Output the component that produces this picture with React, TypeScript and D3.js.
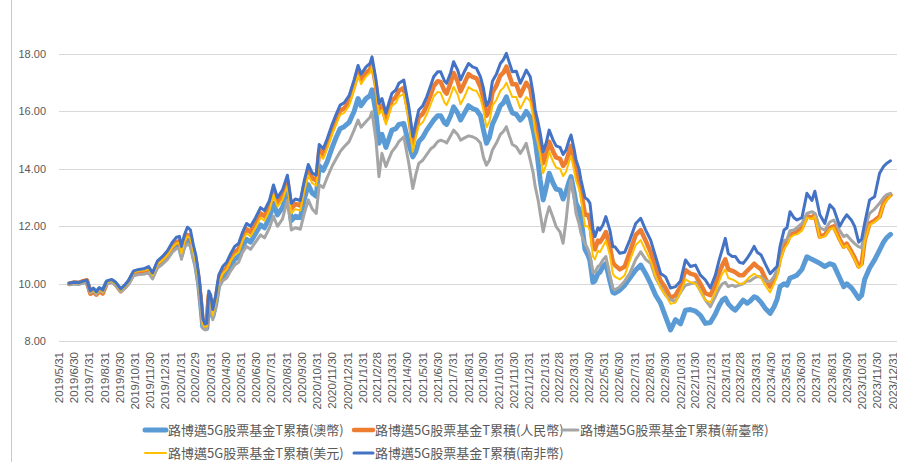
import React, { useEffect, useRef } from "react";
import * as d3 from "d3";

// sample dates
const dates = [
  "2019/6/21","2019/6/30","2019/7/10","2019/7/20","2019/7/26","2019/8/2","2019/8/8","2019/8/14","2019/8/20","2019/8/27",
  "2019/9/4","2019/9/14","2019/9/22","2019/10/2","2019/10/10","2019/10/18","2019/10/28","2019/11/7","2019/11/17","2019/11/27",
  "2019/12/5","2019/12/15","2019/12/25","2020/1/4","2020/1/14","2020/1/22","2020/1/28","2020/2/1","2020/2/7","2020/2/13",
  "2020/2/19","2020/2/25","2020/3/1","2020/3/7","2020/3/11","2020/3/15","2020/3/19","2020/3/23","2020/3/27","2020/3/31",
  "2020/4/4","2020/4/10","2020/4/16","2020/4/24","2020/5/2","2020/5/10","2020/5/18","2020/5/26","2020/6/3","2020/6/11",
  "2020/6/19","2020/6/29","2020/7/9","2020/7/17","2020/7/27","2020/8/4","2020/8/12","2020/8/22","2020/9/1","2020/9/9",
  "2020/9/17","2020/9/27","2020/10/5","2020/10/13","2020/10/21","2020/10/29","2020/11/4","2020/11/12","2020/11/20","2020/11/30",
  "2020/12/8","2020/12/16","2020/12/24","2021/1/3","2021/1/13","2021/1/21","2021/1/27","2021/2/6","2021/2/14","2021/2/18",
  "2021/2/26","2021/3/4","2021/3/10","2021/3/18","2021/3/24","2021/3/30","2021/4/7","2021/4/13","2021/4/23","2021/5/3",
  "2021/5/11","2021/5/17","2021/5/23","2021/5/31","2021/6/8","2021/6/16","2021/6/22","2021/6/30","2021/7/6","2021/7/14",
  "2021/7/18","2021/7/26","2021/8/1","2021/8/9","2021/8/15","2021/8/23","2021/8/31","2021/9/8","2021/9/16","2021/9/24",
  "2021/9/30","2021/10/6","2021/10/12","2021/10/18","2021/10/26","2021/11/3","2021/11/9","2021/11/15","2021/11/21","2021/11/27",
  "2021/12/5","2021/12/13","2021/12/19","2021/12/25","2022/1/2","2022/1/8","2022/1/12","2022/1/18","2022/1/22","2022/1/28",
  "2022/2/3","2022/2/9","2022/2/17","2022/2/23","2022/3/3","2022/3/9","2022/3/15","2022/3/21","2022/3/25","2022/3/31",
  "2022/4/4","2022/4/10","2022/4/14","2022/4/22","2022/4/28","2022/5/2","2022/5/8","2022/5/12","2022/5/18","2022/5/22",
  "2022/5/28","2022/6/3","2022/6/11","2022/6/17","2022/6/21","2022/7/1","2022/7/11","2022/7/21","2022/8/2","2022/8/12",
  "2022/8/22","2022/9/1","2022/9/11","2022/9/21","2022/10/1","2022/10/11","2022/10/21","2022/10/31","2022/11/10","2022/11/20",
  "2022/11/30","2022/12/10","2022/12/20","2022/12/30","2023/1/9","2023/1/17","2023/1/23","2023/1/29","2023/2/4","2023/2/12",
  "2023/2/18","2023/2/26","2023/3/6","2023/3/14","2023/3/20","2023/3/28","2023/4/3","2023/4/11","2023/4/19","2023/4/29",
  "2023/5/7","2023/5/13","2023/5/19","2023/5/27","2023/6/2","2023/6/8","2023/6/16","2023/6/22","2023/7/2","2023/7/12",
  "2023/7/22","2023/7/28","2023/8/7","2023/8/17","2023/8/27","2023/9/4","2023/9/16","2023/9/24","2023/9/30","2023/10/10",
  "2023/10/16","2023/10/24","2023/10/30","2023/11/5","2023/11/15","2023/11/25","2023/12/5","2023/12/13","2023/12/19","2023/12/27",
];

// 路博邁5G股票基金T累積(澳幣)
const audValues = [
  10.00,10.03,10.02,10.07,10.08,9.72,9.80,9.70,9.82,9.75,
  10.05,10.10,10.00,9.78,9.90,10.06,10.38,10.43,10.44,10.50,
  10.28,10.66,10.80,10.97,11.22,11.35,11.38,11.00,11.40,11.55,
  11.50,11.00,10.65,9.95,9.25,8.50,8.45,8.45,9.45,9.30,
  8.85,9.30,9.95,10.20,10.35,10.62,10.85,10.95,11.30,11.55,
  11.45,11.75,12.05,11.95,12.30,12.80,12.40,12.65,13.15,12.20,
  12.35,12.30,12.95,13.45,13.15,13.05,14.10,13.95,14.25,14.75,
  15.10,15.40,15.47,15.62,16.00,16.45,16.20,16.45,16.55,16.75,
  15.95,14.89,15.20,14.75,15.05,15.35,15.40,15.55,15.58,14.85,
  14.42,14.60,14.95,15.10,15.35,15.55,15.70,15.85,15.85,15.60,
  15.55,15.85,16.16,15.95,15.70,15.95,16.20,16.10,16.05,15.85,
  15.35,14.89,15.10,15.55,15.85,16.20,16.30,16.51,16.20,15.95,
  15.90,15.70,15.82,16.00,15.80,15.35,15.00,14.20,13.61,12.92,
  13.35,13.85,13.50,13.30,13.26,12.95,13.20,13.55,13.73,13.20,
  12.80,12.60,12.30,11.20,11.00,10.80,10.05,10.10,10.35,10.40,
  10.60,10.70,10.10,9.70,9.67,9.78,9.95,10.20,10.48,10.65,
  10.35,10.00,9.60,9.32,8.85,8.39,8.75,8.60,9.08,9.10,
  9.05,8.90,8.62,8.65,8.95,9.25,9.43,9.50,9.30,9.15,
  9.08,9.25,9.43,9.32,9.40,9.55,9.50,9.35,9.15,8.97,
  9.20,9.45,9.90,10.00,9.95,10.20,10.25,10.30,10.50,10.94,
  10.85,10.80,10.71,10.60,10.70,10.65,10.20,9.90,10.00,9.85,
  9.70,9.49,9.60,10.15,10.55,10.83,11.17,11.45,11.60,11.72,
];

// 路博邁5G股票基金T累積(人民幣)
const cnyValues = [
  10.00,10.04,10.03,10.10,10.12,9.65,9.72,9.62,9.74,9.66,
  10.02,10.08,9.98,9.74,9.88,10.05,10.38,10.44,10.45,10.52,
  10.30,10.70,10.85,11.03,11.30,11.45,11.48,11.10,11.50,11.70,
  11.65,11.15,10.80,10.10,9.40,8.65,8.50,8.55,9.60,9.45,
  8.95,9.45,10.10,10.40,10.55,10.85,11.10,11.20,11.60,11.90,
  11.80,12.10,12.45,12.35,12.70,13.25,12.82,13.08,13.58,12.62,
  12.78,12.72,13.42,13.95,13.67,13.60,14.66,14.50,14.86,15.35,
  15.70,16.03,16.10,16.35,16.88,17.38,17.10,17.35,17.45,17.67,
  16.88,16.05,16.20,15.70,16.05,16.38,16.50,16.72,16.82,15.90,
  14.88,15.35,15.80,15.92,16.20,16.58,16.88,17.05,17.03,16.70,
  16.62,17.00,17.34,17.05,16.70,17.00,17.30,17.20,17.15,16.85,
  16.45,15.85,16.05,16.65,16.90,17.25,17.35,17.56,17.25,16.95,
  16.95,16.55,16.78,17.00,16.80,16.20,15.65,15.20,14.85,14.20,
  14.50,14.95,14.60,14.40,14.35,14.10,14.25,14.60,14.80,14.30,
  13.92,13.60,13.25,12.40,12.40,12.20,11.30,11.20,11.50,11.45,
  11.60,11.80,11.30,10.75,10.65,10.50,10.60,11.10,11.70,11.87,
  11.50,11.10,10.55,10.10,9.85,9.50,9.60,9.90,10.48,10.35,
  10.30,10.00,9.67,9.60,9.95,10.40,10.65,10.85,10.50,10.45,
  10.40,10.30,10.30,10.45,10.55,10.70,10.60,10.50,10.20,9.90,
  10.15,10.40,10.90,11.30,11.45,11.70,11.76,11.80,11.95,12.35,
  12.30,12.40,11.64,11.70,11.95,12.00,11.55,11.29,11.40,11.10,
  10.90,10.60,10.70,11.50,12.10,12.20,12.34,12.80,12.95,13.09,
];

// 路博邁5G股票基金T累積(新臺幣)
const twdValues = [
  9.98,10.00,9.98,10.03,10.05,9.68,9.75,9.63,9.78,9.70,
  10.00,10.04,9.95,9.72,9.83,9.98,10.28,10.32,10.33,10.38,
  10.17,10.55,10.68,10.85,11.10,11.22,11.25,10.85,11.25,11.38,
  11.32,10.85,10.50,9.80,9.10,8.45,8.40,8.40,9.35,9.20,
  8.75,9.20,9.85,10.10,10.20,10.45,10.65,10.75,11.10,11.30,
  11.20,11.45,11.70,11.60,11.95,12.35,12.00,12.25,12.90,11.87,
  11.95,11.90,12.45,12.92,12.60,12.45,13.45,13.35,13.70,14.10,
  14.35,14.60,14.77,14.95,15.35,15.70,15.45,15.65,15.80,15.99,
  15.00,13.73,14.54,14.08,14.35,14.60,14.77,14.95,15.12,14.19,
  13.32,13.80,14.19,14.30,14.50,14.70,14.77,14.95,15.00,14.95,
  14.90,15.15,15.35,15.20,15.00,15.08,15.15,15.12,15.05,14.90,
  14.40,14.13,14.30,14.66,14.90,15.20,15.30,15.47,15.15,14.85,
  14.77,14.54,14.70,14.89,14.31,13.85,13.38,12.90,12.45,11.81,
  12.30,12.68,12.30,11.99,11.80,11.41,12.20,13.20,13.61,13.00,
  12.45,12.10,11.76,11.40,11.20,11.00,10.40,10.40,10.60,10.65,
  10.83,10.95,10.30,9.85,9.78,9.90,10.10,10.36,10.85,11.11,
  10.85,10.71,10.20,9.90,9.60,9.43,9.40,9.70,9.95,10.00,
  10.05,9.75,9.43,9.20,9.55,9.85,10.00,10.05,9.90,9.95,
  9.90,9.95,10.00,10.10,10.10,10.20,10.25,10.24,10.10,10.07,
  10.25,10.50,11.20,11.50,11.55,11.85,11.87,11.95,12.10,12.45,
  12.51,12.45,11.95,11.87,12.15,12.22,11.85,11.64,11.70,11.50,
  11.40,11.29,11.25,11.90,12.45,12.60,12.80,13.00,13.10,13.15,
];

// 路博邁5G股票基金T累積(美元)
const usdValues = [
  10.00,10.03,10.02,10.08,10.10,9.70,9.78,9.67,9.80,9.72,
  10.05,10.10,10.00,9.77,9.90,10.07,10.40,10.45,10.46,10.52,
  10.30,10.68,10.82,11.00,11.27,11.40,11.43,11.05,11.45,11.65,
  11.60,11.10,10.75,10.05,9.35,8.60,8.50,8.52,9.55,9.40,
  8.90,9.40,10.05,10.35,10.50,10.80,11.00,11.10,11.50,11.75,
  11.65,11.95,12.30,12.20,12.55,13.10,12.68,12.92,13.40,12.45,
  12.60,12.55,13.25,13.78,13.50,13.42,14.50,14.35,14.70,15.20,
  15.55,15.88,15.95,16.20,16.75,17.25,16.95,17.22,17.35,17.56,
  16.75,15.90,16.05,15.55,15.90,16.20,16.30,16.52,16.60,15.70,
  14.60,15.10,15.50,15.62,15.90,16.25,16.52,16.68,16.65,16.30,
  16.22,16.55,16.86,16.60,16.25,16.52,16.85,16.75,16.72,16.45,
  16.05,15.45,15.65,16.20,16.40,16.72,16.82,17.00,16.75,16.50,
  16.50,16.10,16.30,16.50,16.35,15.80,15.30,14.85,14.50,13.85,
  14.15,14.60,14.25,14.05,14.00,13.75,13.90,14.25,14.45,13.95,
  13.60,13.30,12.95,12.00,12.00,11.85,10.95,10.85,11.15,11.10,
  11.30,11.50,11.00,10.35,10.25,10.15,10.30,10.80,11.35,11.52,
  11.15,10.80,10.25,9.85,9.60,9.30,9.35,9.70,10.15,10.05,
  10.00,9.75,9.43,9.35,9.70,10.10,10.35,10.50,10.20,10.15,
  10.10,10.00,10.00,10.15,10.25,10.35,10.28,10.20,9.95,9.70,
  10.00,10.25,10.75,11.20,11.35,11.60,11.70,11.72,11.85,12.30,
  12.25,12.35,11.60,11.65,11.90,11.95,11.50,11.25,11.35,11.05,
  10.85,10.55,10.65,11.45,12.05,12.15,12.30,12.75,12.90,13.05,
];

// 路博邁5G股票基金T累積(南非幣)
const zarValues = [
  10.02,10.05,10.04,10.10,10.12,9.75,9.85,9.72,9.86,9.78,
  10.10,10.15,10.05,9.82,9.95,10.12,10.45,10.50,10.52,10.60,
  10.38,10.80,10.95,11.15,11.45,11.62,11.65,11.30,11.70,11.97,
  11.88,11.35,11.00,10.30,9.60,8.80,8.60,8.62,9.75,9.60,
  9.10,9.60,10.30,10.60,10.75,11.05,11.30,11.40,11.80,12.10,
  12.00,12.30,12.65,12.55,12.90,13.44,13.00,13.26,13.78,12.80,
  12.95,12.90,13.60,14.15,13.85,13.78,14.85,14.70,15.05,15.55,
  15.90,16.22,16.30,16.55,17.10,17.60,17.30,17.55,17.67,17.90,
  17.10,16.28,16.45,15.94,16.30,16.63,16.75,16.98,17.09,16.16,
  15.12,15.60,16.05,16.20,16.51,16.90,17.21,17.38,17.38,17.05,
  16.98,17.35,17.73,17.45,17.10,17.40,17.67,17.55,17.50,17.20,
  16.80,16.20,16.40,17.05,17.30,17.67,17.80,18.02,17.70,17.38,
  17.40,16.98,17.20,17.44,17.21,16.60,16.05,15.60,15.24,14.60,
  14.90,15.35,15.00,14.80,14.75,14.50,14.66,15.00,15.18,14.70,
  14.31,14.00,13.61,13.00,12.92,12.80,11.90,11.64,11.95,11.87,
  12.05,12.34,11.87,11.29,11.29,11.06,11.10,11.52,12.10,12.28,
  11.87,11.52,10.94,10.36,10.24,9.85,9.90,10.10,10.83,10.60,
  10.65,10.30,10.13,9.85,10.30,10.85,11.20,11.58,11.05,10.95,
  10.95,10.75,10.71,10.89,11.05,11.30,11.10,11.00,10.70,10.35,
  10.50,10.60,11.30,11.87,11.95,12.51,12.30,12.22,12.30,13.15,
  12.90,13.22,12.40,12.10,12.75,12.60,12.00,12.25,12.40,12.20,
  12.00,11.45,11.55,12.10,12.92,13.03,13.85,14.08,14.19,14.28,
];

const seriesNames = [
  "路博邁5G股票基金T累積(澳幣)",
  "路博邁5G股票基金T累積(人民幣)",
  "路博邁5G股票基金T累積(新臺幣)",
  "路博邁5G股票基金T累積(美元)",
  "路博邁5G股票基金T累積(南非幣)",
];

const tickLabels = [
  "2019/5/31","2019/6/30","2019/7/31","2019/8/31","2019/9/30","2019/10/31","2019/11/30","2019/12/31",
  "2020/1/31","2020/2/29","2020/3/31","2020/4/30","2020/5/31","2020/6/30","2020/7/31","2020/8/31",
  "2020/9/30","2020/10/31","2020/11/30","2020/12/31","2021/1/31","2021/2/28","2021/3/31","2021/4/30",
  "2021/5/31","2021/6/30","2021/7/31","2021/8/31","2021/9/30","2021/10/31","2021/11/30","2021/12/31",
  "2022/1/31","2022/2/28","2022/3/31","2022/4/30","2022/5/31","2022/6/30","2022/7/31","2022/8/31",
  "2022/9/30","2022/10/31","2022/11/30","2022/12/31","2023/1/31","2023/2/28","2023/3/31","2023/4/30",
  "2023/5/31","2023/6/30","2023/7/31","2023/8/31","2023/9/30","2023/10/31","2023/11/30","2023/12/31",
];

const yTicks = [8, 10, 12, 14, 16, 18];

const W = 897;
const H = 462;

const styles = [
  { color: "#5B9BD5", width: 5 },
  { color: "#ED7D31", width: 4.5 },
  { color: "#A5A5A5", width: 3 },
  { color: "#FFC000", width: 2 },
  { color: "#4472C4", width: 3 },
];

// legend slots: [lineStart, lineEnd, textX, rowY]
const legendSlots = [
  [145, 166, 168, 430],
  [354, 373, 375, 430],
  [562, 578, 580, 430],
  [145, 166, 168, 453],
  [354, 373, 375, 453],
];

export default function App() {
  const ref = useRef<SVGSVGElement>(null);

  useEffect(() => {
    const parse = d3.timeParse("%Y/%m/%d");
    const svg = d3.select(ref.current);
    svg.selectAll("*").remove();

    const x = d3
      .scaleTime()
      .domain([parse("2019/5/31")!, parse("2023/12/31")!])
      .range([59, 892.5]);
    const y = d3.scaleLinear().domain([8, 18]).range([341.2, 54]);

    // left border of the chart frame
    svg.append("line")
      .attr("x1", 11.5).attr("x2", 11.5)
      .attr("y1", 0).attr("y2", H)
      .attr("stroke", "#C8C8C8");

    svg.append("g")
      .selectAll("line")
      .data(yTicks)
      .join("line")
      .attr("x1", 59).attr("x2", W)
      .attr("y1", d => Math.round(y(d)) + 0.5)
      .attr("y2", d => Math.round(y(d)) + 0.5)
      .attr("stroke", "#D9D9D9")
      .attr("stroke-width", 1);

    svg.append("g")
      .selectAll("text")
      .data(yTicks)
      .join("text")
      .attr("x", 46)
      .attr("y", d => y(d))
      .attr("dy", "0.35em")
      .attr("text-anchor", "end")
      .attr("font-family", "'Liberation Sans', Arial, sans-serif")
      .attr("font-size", 11)
      .attr("fill", "#595959")
      .text(d => d.toFixed(2));

    svg.append("g")
      .selectAll("text")
      .data(tickLabels)
      .join("text")
      .attr("transform", d => `translate(${x(parse(d)!) + 4},352) rotate(-90)`)
      .attr("text-anchor", "end")
      .attr("font-family", "'Liberation Sans', Arial, sans-serif")
      .attr("font-size", 11.5)
      .attr("fill", "#595959")
      .text(d => d);

    const allSeries = [audValues, cnyValues, twdValues, usdValues, zarValues];
    const parsedDates = dates.map(d => parse(d)!);
    const line = d3
      .line<number>()
      .x((_, i) => x(parsedDates[i]))
      .y(v => y(v));

    allSeries.forEach((vals, i) => {
      svg.append("path")
        .attr("d", line(vals))
        .attr("fill", "none")
        .attr("stroke", styles[i].color)
        .attr("stroke-width", styles[i].width)
        .attr("stroke-linejoin", "round")
        .attr("stroke-linecap", "round");
    });

    const legend = svg.append("g")
      .selectAll("g")
      .data(seriesNames)
      .join("g");
    legend.append("line")
      .attr("x1", (_, i) => legendSlots[i][0])
      .attr("x2", (_, i) => legendSlots[i][1])
      .attr("y1", (_, i) => legendSlots[i][3])
      .attr("y2", (_, i) => legendSlots[i][3])
      .attr("stroke", (_, i) => styles[i].color)
      .attr("stroke-width", (_, i) => styles[i].width)
      .attr("stroke-linecap", "round");
    legend.append("text")
      .attr("x", (_, i) => legendSlots[i][2])
      .attr("y", (_, i) => legendSlots[i][3])
      .attr("dy", "0.35em")
      .attr("font-family", "'Noto Sans CJK TC', 'Noto Sans', sans-serif")
      .attr("font-size", 13)
      .attr("fill", "#595959")
      .text(d => d);
  }, []);

  return (
    <svg
      ref={ref}
      width={W}
      height={H}
      style={{ position: "absolute", left: 0, top: 0, background: "#fff" }}
    />
  );
}
